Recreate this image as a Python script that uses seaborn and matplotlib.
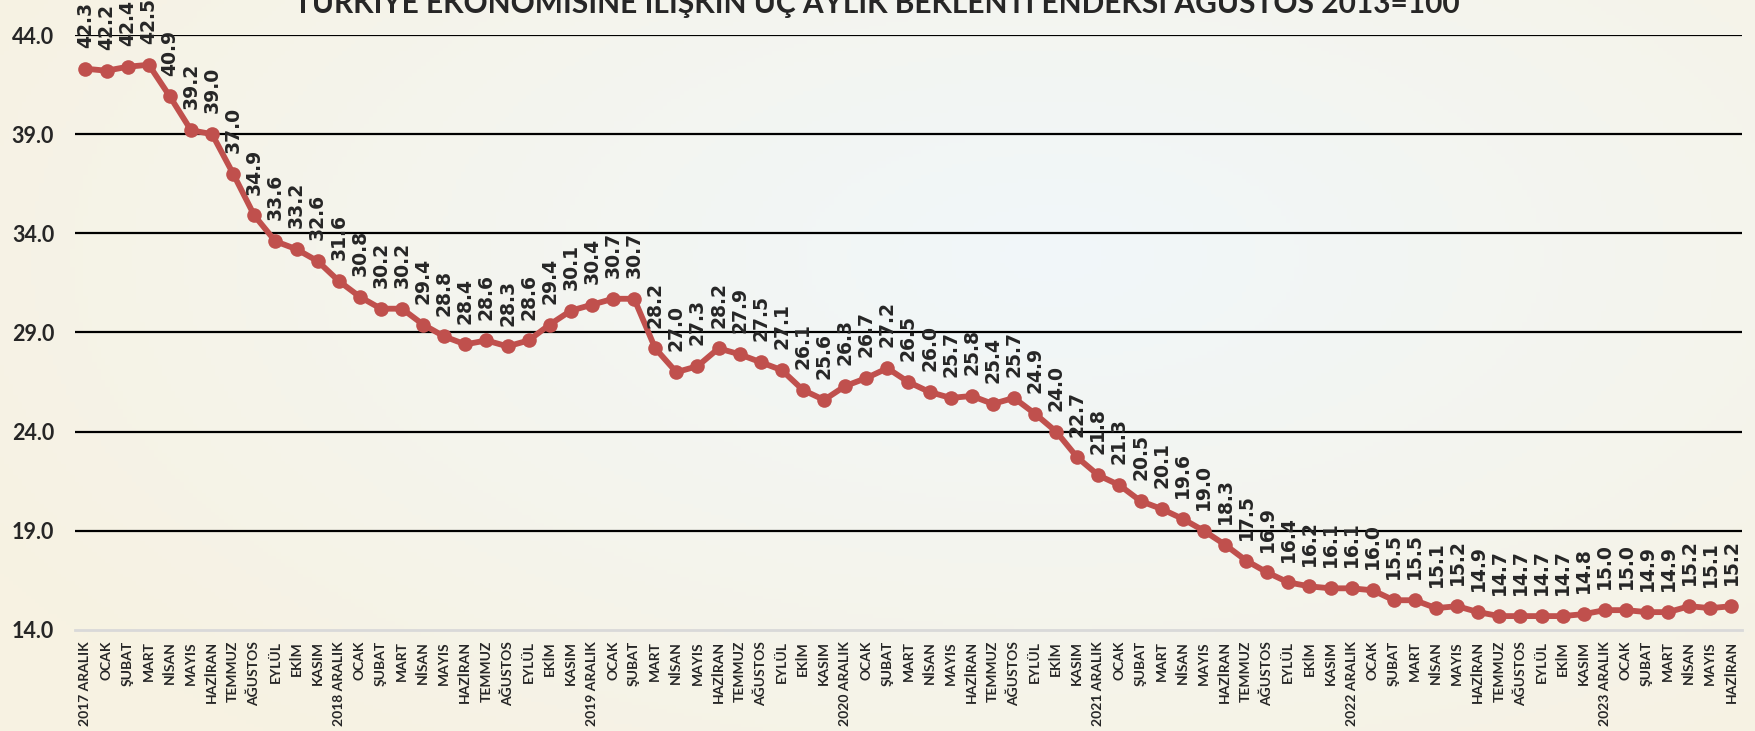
import numpy as np
import pandas as pd
import matplotlib.pyplot as plt
import seaborn as sns

# Veriler
months = ["2017 ARALIK", "OCAK", "ŞUBAT", "MART", "NİSAN", "MAYIS", "HAZİRAN", "TEMMUZ",
          "AĞUSTOS", "EYLÜL", "EKİM", "KASIM",
          "2018 ARALIK", "OCAK", "ŞUBAT", "MART", "NİSAN", "MAYIS", "HAZİRAN", "TEMMUZ",
          "AĞUSTOS", "EYLÜL", "EKİM", "KASIM",
          "2019 ARALIK", "OCAK", "ŞUBAT", "MART", "NİSAN", "MAYIS", "HAZİRAN", "TEMMUZ",
          "AĞUSTOS", "EYLÜL", "EKİM", "KASIM",
          "2020 ARALIK", "OCAK", "ŞUBAT", "MART", "NİSAN", "MAYIS", "HAZİRAN", "TEMMUZ",
          "AĞUSTOS", "EYLÜL", "EKİM", "KASIM",
          "2021 ARALIK", "OCAK", "ŞUBAT", "MART", "NİSAN", "MAYIS", "HAZİRAN", "TEMMUZ",
          "AĞUSTOS", "EYLÜL", "EKİM", "KASIM",
          "2022 ARALIK", "OCAK", "ŞUBAT", "MART", "NİSAN", "MAYIS", "HAZİRAN", "TEMMUZ",
          "AĞUSTOS", "EYLÜL", "EKİM", "KASIM",
          "2023 ARALIK", "OCAK", "ŞUBAT", "MART", "NİSAN", "MAYIS", "HAZİRAN"]

endeks = [42.3, 42.2, 42.4, 42.5, 40.9, 39.2, 39.0, 37.0, 34.9, 33.6, 33.2, 32.6,
          31.6, 30.8, 30.2, 30.2, 29.4, 28.8, 28.4, 28.6, 28.3, 28.6, 29.4, 30.1,
          30.4, 30.7, 30.7, 28.2, 27.0, 27.3, 28.2, 27.9, 27.5, 27.1, 26.1, 25.6,
          26.3, 26.7, 27.2, 26.5, 26.0, 25.7, 25.8, 25.4, 25.7, 24.9, 24.0, 22.7,
          21.8, 21.3, 20.5, 20.1, 19.6, 19.0, 18.3, 17.5, 16.9, 16.4, 16.2, 16.1,
          16.1, 16.0, 15.5, 15.5, 15.1, 15.2, 14.9, 14.7, 14.7, 14.7, 14.7, 14.8,
          15.0, 15.0, 14.9, 14.9, 15.2, 15.1, 15.2]

y_ticks = [14.0, 19.0, 24.0, 29.0, 34.0, 39.0, 44.0]

baslik = "TÜRKİYE EKONOMİSİNE İLİŞKİN ÜÇ AYLIK BEKLENTİ ENDEKSİ AĞUSTOS 2013=100"

df = pd.DataFrame({"x": np.arange(len(endeks)), "endeks": endeks})

sns.set_style("white")
plt.rcParams['font.family'] = ['Lato', 'DejaVu Sans']

fig = plt.figure(figsize=(17.55, 7.31), dpi=100)

# arka plan degrade
bg = fig.add_axes([0, 0, 1, 1], zorder=-10)
yy, xx = np.mgrid[0:1:200j, 0:1:400j]
d = np.sqrt(((xx - 0.6) / 0.7) ** 2 + ((yy - 0.35) / 0.85) ** 2)
d = np.clip(d, 0, 1)
c1 = np.array([241, 247, 250]) / 255
c2 = np.array([247, 242, 226]) / 255
img = c1[None, None, :] * (1 - d[..., None]) + c2[None, None, :] * d[..., None]
bg.imshow(img, aspect='auto', extent=[0, 1, 0, 1], origin='upper')
bg.axis('off')

ax = fig.add_axes([0.0427, 0.1382, 0.9499, 0.8139])
ax.patch.set_alpha(0)

sns.lineplot(data=df, x="x", y="endeks", ax=ax, color="#C0504D", linewidth=4.2,
             marker="o", markersize=10.5, markeredgewidth=0)

# degerler noktalarin ustunde, dikey
for i, v in enumerate(endeks):
    ax.annotate(f"{v:.1f}", (i, v), xytext=(0, 15), textcoords="offset points",
                rotation=90, ha="center", va="bottom", fontsize=13.5,
                fontweight="bold", family="DejaVu Sans", clip_on=False)

ax.set_xlim(-0.5, len(endeks) - 0.5)
ax.set_ylim(14, 44)
ax.set_yticks(y_ticks)
ax.set_yticklabels([f"{t:.1f}" for t in y_ticks], fontsize=15.5, fontweight="bold")
ax.set_xticks(df["x"])
ax.set_xticklabels(months, rotation=90, fontsize=10, fontweight="bold")
ax.tick_params(axis="y", length=0, pad=15)
ax.tick_params(axis="x", length=0, pad=8)
ax.set_xlabel("")
ax.set_ylabel("")

for t in y_ticks[1:]:
    ax.axhline(t, color="black", linewidth=1.6, zorder=0)
for s in ["top", "right", "left"]:
    ax.spines[s].set_visible(False)
ax.spines["bottom"].set_color("#D9D9D9")
ax.spines["bottom"].set_linewidth(2)

fig.text(0.4997, 1 - 13 / 731, baslik, ha="center", va="baseline",
         fontsize=21.5, fontweight="bold")

fig.savefig("out.png", dpi=100)
